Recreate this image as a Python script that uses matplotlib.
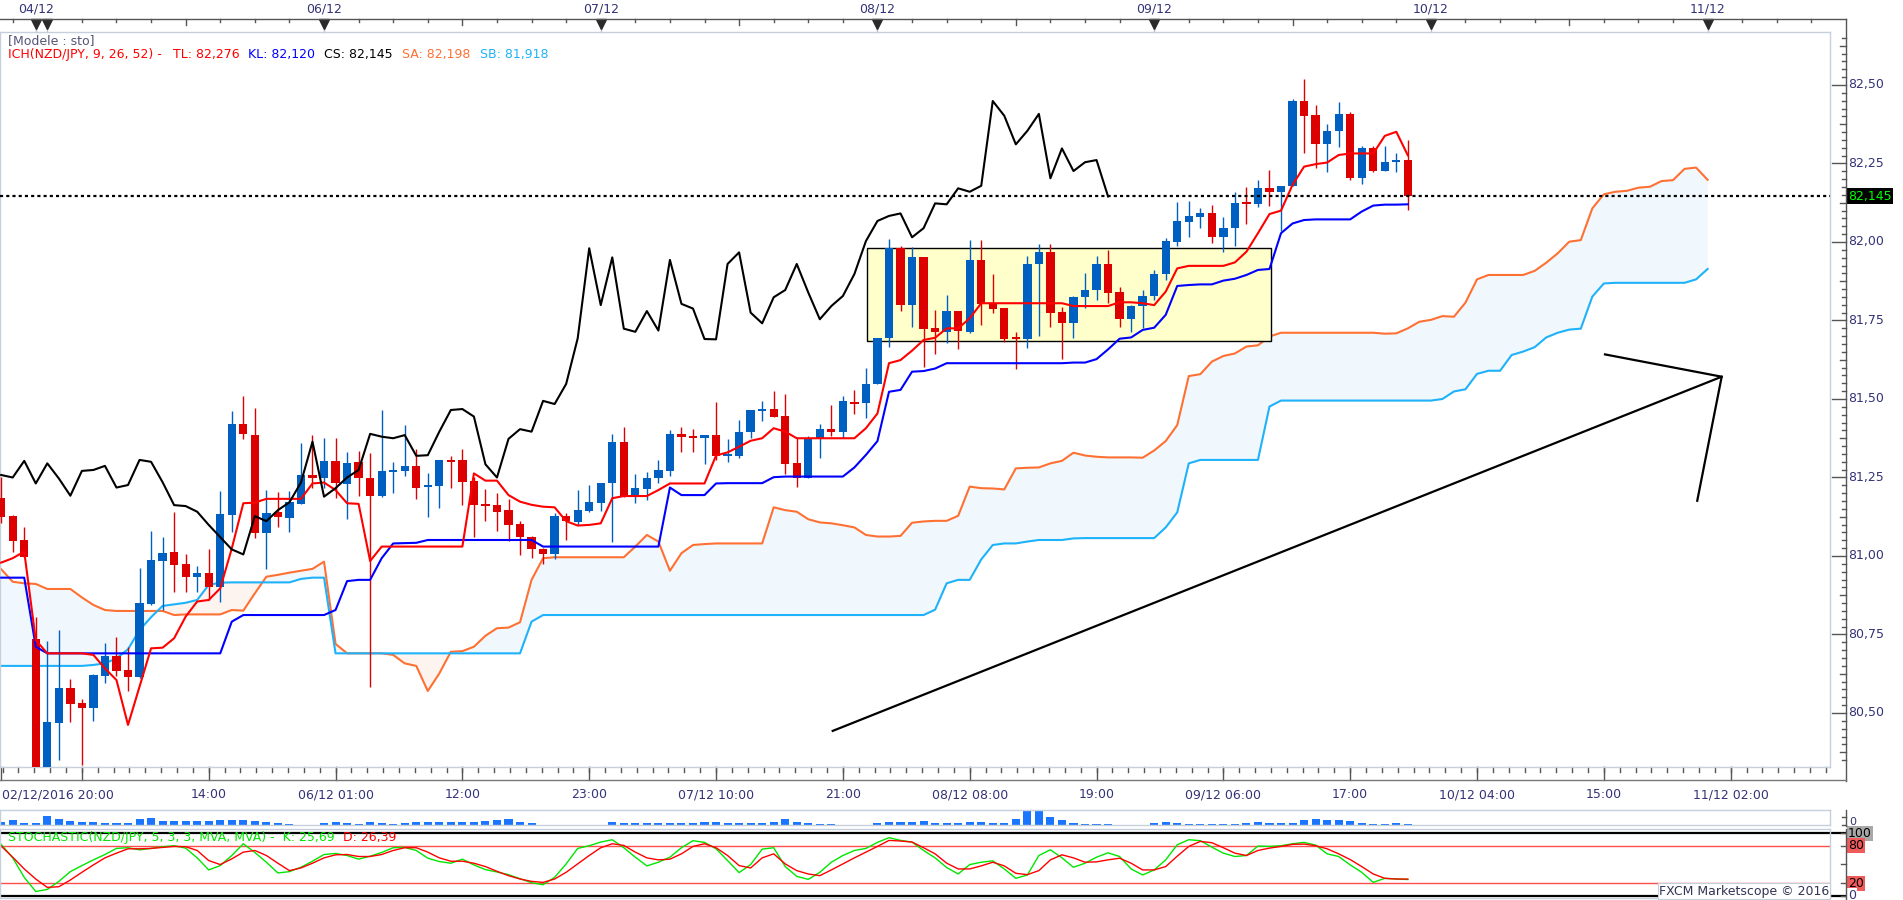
import numpy as np
import matplotlib
matplotlib.use("Agg")
import matplotlib.pyplot as plt
from matplotlib.lines import Line2D
from matplotlib.patches import Rectangle

# hourly NZD/JPY candles, first bar is index -4 (bar 0 = 05/12 00:00)
open_ = [81.185, 81.127, 81.051, 80.736, 80.300, 80.469, 80.581, 80.533, 80.517, 80.619,
         80.682, 80.637, 80.616, 80.847, 80.984, 81.013, 80.976, 80.932, 80.947, 80.900,
         81.132, 81.421, 81.386, 81.074, 81.139, 81.122, 81.167, 81.258, 81.250, 81.303,
         81.228, 81.298, 81.247, 81.192, 81.267, 81.272, 81.287, 81.221, 81.222, 81.306,
         81.306, 81.239, 81.166, 81.162, 81.146, 81.102, 81.060, 81.021, 81.005, 81.127,
         81.107, 81.144, 81.170, 81.234, 81.364, 81.192, 81.214, 81.250, 81.272, 81.389,
         81.382, 81.375, 81.385, 81.319, 81.319, 81.394, 81.463, 81.468, 81.446, 81.295,
         81.250, 81.373, 81.404, 81.396, 81.490, 81.486, 81.548, 81.695, 81.980, 81.799,
         81.951, 81.725, 81.714, 81.780, 81.714, 81.943, 81.807, 81.789, 81.695, 81.690,
         81.929, 81.967, 81.776, 81.741, 81.824, 81.847, 81.930, 81.840, 81.754, 81.796,
         81.828, 81.897, 82.001, 82.065, 82.081, 82.091, 82.015, 82.044, 82.123, 82.120,
         82.171, 82.160, 82.179, 82.449, 82.404, 82.311, 82.352, 82.408, 82.205, 82.298,
         82.226, 82.254, 82.261]
high = [81.253, 81.130, 81.093, 80.807, 80.729, 80.764, 80.608, 80.545, 80.625, 80.724,
        80.742, 80.711, 80.963, 81.081, 81.061, 81.139, 81.007, 80.968, 81.022, 81.207,
        81.462, 81.510, 81.470, 81.210, 81.205, 81.207, 81.359, 81.385, 81.377, 81.377,
        81.332, 81.334, 81.329, 81.465, 81.298, 81.417, 81.341, 81.265, 81.306, 81.319,
        81.341, 81.253, 81.213, 81.200, 81.180, 81.111, 81.065, 81.024, 81.136, 81.136,
        81.210, 81.226, 81.234, 81.389, 81.410, 81.261, 81.268, 81.306, 81.401, 81.412,
        81.404, 81.385, 81.490, 81.372, 81.433, 81.465, 81.494, 81.525, 81.516, 81.375,
        81.382, 81.420, 81.481, 81.510, 81.529, 81.598, 81.693, 82.009, 81.988, 81.985,
        81.951, 81.783, 81.831, 81.780, 82.006, 82.006, 81.898, 81.789, 81.712, 81.956,
        81.994, 81.994, 81.794, 81.828, 81.900, 81.955, 81.975, 81.858, 81.800, 81.847,
        81.911, 82.014, 82.128, 82.131, 82.107, 82.118, 82.081, 82.160, 82.176, 82.197,
        82.229, 82.179, 82.454, 82.519, 82.436, 82.376, 82.445, 82.415, 82.306, 82.306,
        82.306, 82.282, 82.325]
low = [81.104, 81.014, 80.998, 80.280, 80.280, 80.350, 80.470, 80.334, 80.475, 80.597,
       80.619, 80.571, 80.612, 80.845, 80.828, 80.886, 80.886, 80.885, 80.860, 80.854,
       81.077, 81.374, 81.058, 80.958, 81.093, 81.077, 81.165, 81.216, 81.218, 81.184,
       81.117, 81.192, 80.583, 81.189, 81.200, 81.255, 81.182, 81.125, 81.154, 81.218,
       81.162, 81.060, 81.111, 81.080, 81.048, 81.003, 80.995, 80.974, 80.990, 81.051,
       81.099, 81.140, 81.144, 81.046, 81.189, 81.168, 81.178, 81.231, 81.255, 81.332,
       81.332, 81.292, 81.306, 81.300, 81.311, 81.377, 81.430, 81.444, 81.260, 81.219,
       81.250, 81.311, 81.383, 81.375, 81.451, 81.439, 81.548, 81.665, 81.781, 81.728,
       81.603, 81.643, 81.677, 81.659, 81.709, 81.736, 81.775, 81.683, 81.596, 81.661,
       81.702, 81.730, 81.626, 81.693, 81.789, 81.815, 81.805, 81.730, 81.714, 81.727,
       81.815, 81.879, 81.987, 82.017, 82.046, 81.996, 81.967, 81.987, 82.056, 82.112,
       82.116, 82.036, 82.179, 82.284, 82.237, 82.222, 82.304, 82.197, 82.185, 82.222,
       82.226, 82.222, 82.102]
close = [81.124, 81.049, 80.998, 80.300, 80.472, 80.581, 80.528, 80.517, 80.622, 80.682,
         80.635, 80.616, 80.851, 80.987, 81.010, 80.971, 80.932, 80.947, 80.900, 81.134,
         81.421, 81.388, 81.074, 81.138, 81.125, 81.171, 81.258, 81.250, 81.303, 81.231,
         81.295, 81.247, 81.192, 81.271, 81.274, 81.287, 81.218, 81.226, 81.306, 81.300,
         81.235, 81.162, 81.159, 81.141, 81.099, 81.060, 81.021, 81.005, 81.127, 81.111,
         81.146, 81.171, 81.234, 81.364, 81.189, 81.216, 81.250, 81.274, 81.389, 81.380,
         81.375, 81.385, 81.319, 81.321, 81.396, 81.465, 81.468, 81.444, 81.292, 81.250,
         81.373, 81.404, 81.396, 81.494, 81.484, 81.548, 81.693, 81.980, 81.799, 81.951,
         81.724, 81.714, 81.780, 81.718, 81.943, 81.803, 81.788, 81.691, 81.690, 81.930,
         81.967, 81.775, 81.741, 81.824, 81.847, 81.930, 81.839, 81.754, 81.796, 81.828,
         81.898, 82.003, 82.067, 82.083, 82.091, 82.015, 82.044, 82.123, 82.120, 82.171,
         82.160, 82.179, 82.449, 82.402, 82.311, 82.354, 82.408, 82.203, 82.298, 82.226,
         82.254, 82.261, 82.145]

# ichimoku lines
tenkan = [80.979, 80.993, 81.014, 80.732, 80.690, 80.690, 80.690, 80.690, 80.685, 80.642,
          80.605, 80.462, 80.584, 80.706, 80.708, 80.738, 80.807, 80.855, 80.860, 80.897,
          81.024, 81.168, 81.170, 81.182, 81.182, 81.182, 81.182, 81.231, 81.234, 81.210,
          81.168, 81.166, 80.984, 81.030, 81.030, 81.030, 81.030, 81.030, 81.030, 81.030,
          81.030, 81.263, 81.240, 81.240, 81.194, 81.173, 81.163, 81.157, 81.155, 81.111,
          81.097, 81.099, 81.104, 81.184, 81.191, 81.191, 81.191, 81.210, 81.231, 81.231,
          81.231, 81.231, 81.320, 81.330, 81.348, 81.367, 81.375, 81.407, 81.396, 81.375,
          81.375, 81.375, 81.375, 81.375, 81.375, 81.407, 81.454, 81.614, 81.624, 81.654,
          81.688, 81.695, 81.725, 81.725, 81.757, 81.805, 81.805, 81.805, 81.805, 81.805,
          81.805, 81.805, 81.805, 81.796, 81.796, 81.796, 81.796, 81.808, 81.808, 81.805,
          81.799, 81.842, 81.916, 81.924, 81.924, 81.924, 81.924, 81.935, 81.969, 82.028,
          82.089, 82.100, 82.182, 82.240, 82.248, 82.253, 82.277, 82.282, 82.282, 82.282,
          82.338, 82.351, 82.276]
kijun = [80.931, 80.931, 80.931, 80.711, 80.690, 80.690, 80.690, 80.690, 80.690, 80.690,
         80.690, 80.690, 80.690, 80.690, 80.690, 80.690, 80.690, 80.690, 80.690, 80.690,
         80.791, 80.812, 80.812, 80.812, 80.812, 80.812, 80.812, 80.812, 80.812, 80.828,
         80.920, 80.924, 80.924, 80.993, 81.040, 81.041, 81.042, 81.051, 81.051, 81.051,
         81.051, 81.051, 81.051, 81.051, 81.051, 81.051, 81.051, 81.030, 81.030, 81.030,
         81.030, 81.030, 81.030, 81.030, 81.030, 81.030, 81.030, 81.030, 81.218, 81.194,
         81.194, 81.194, 81.231, 81.232, 81.232, 81.232, 81.232, 81.251, 81.253, 81.253,
         81.253, 81.253, 81.253, 81.253, 81.282, 81.322, 81.366, 81.523, 81.529, 81.587,
         81.589, 81.597, 81.614, 81.614, 81.614, 81.614, 81.614, 81.614, 81.614, 81.614,
         81.614, 81.614, 81.614, 81.616, 81.616, 81.627, 81.658, 81.692, 81.696, 81.720,
         81.727, 81.768, 81.860, 81.863, 81.865, 81.865, 81.877, 81.883, 81.895, 81.911,
         81.914, 82.028, 82.059, 82.070, 82.072, 82.072, 82.072, 82.072, 82.097, 82.116,
         82.119, 82.119, 82.120]
# the two cloud spans run 26 bars past the last candle
senkou_a = [80.958, 80.918, 80.913, 80.911, 80.895, 80.895, 80.895, 80.868, 80.844, 80.828,
            80.825, 80.825, 80.825, 80.825, 80.825, 80.812, 80.814, 80.814, 80.814, 80.814,
            80.828, 80.826, 80.881, 80.934, 80.940, 80.947, 80.953, 80.959, 80.982, 80.720,
            80.690, 80.690, 80.690, 80.690, 80.685, 80.658, 80.650, 80.570, 80.626, 80.695,
            80.697, 80.711, 80.746, 80.770, 80.772, 80.789, 80.924, 80.993, 80.996, 80.996,
            80.996, 80.996, 80.996, 80.996, 80.996, 81.030, 81.067, 81.046, 80.953, 81.009,
            81.035, 81.038, 81.040, 81.040, 81.040, 81.040, 81.040, 81.155, 81.146, 81.141,
            81.117, 81.107, 81.104, 81.098, 81.091, 81.067, 81.062, 81.062, 81.064, 81.106,
            81.110, 81.112, 81.112, 81.128, 81.221, 81.216, 81.215, 81.212, 81.279, 81.281,
            81.282, 81.295, 81.303, 81.329, 81.320, 81.316, 81.314, 81.314, 81.314, 81.313,
            81.336, 81.366, 81.417, 81.573, 81.579, 81.619, 81.637, 81.645, 81.667, 81.671,
            81.699, 81.711, 81.711, 81.711, 81.711, 81.711, 81.711, 81.711, 81.711, 81.711,
            81.708, 81.709, 81.725, 81.746, 81.752, 81.764, 81.762, 81.807, 81.881, 81.895,
            81.895, 81.895, 81.895, 81.908, 81.934, 81.964, 82.001, 82.006, 82.107, 82.152,
            82.160, 82.163, 82.173, 82.176, 82.194, 82.197, 82.233, 82.237, 82.198]
senkou_b = [80.650, 80.650, 80.650, 80.650, 80.650, 80.650, 80.650, 80.650, 80.653, 80.658,
            80.674, 80.703, 80.764, 80.805, 80.841, 80.846, 80.851, 80.860, 80.908, 80.915,
            80.916, 80.916, 80.916, 80.916, 80.916, 80.916, 80.927, 80.931, 80.931, 80.690,
            80.690, 80.690, 80.690, 80.690, 80.690, 80.690, 80.690, 80.690, 80.690, 80.690,
            80.690, 80.690, 80.690, 80.690, 80.690, 80.690, 80.791, 80.812, 80.812, 80.812,
            80.812, 80.812, 80.812, 80.812, 80.812, 80.812, 80.812, 80.812, 80.812, 80.812,
            80.812, 80.812, 80.812, 80.812, 80.812, 80.812, 80.812, 80.812, 80.812, 80.812,
            80.812, 80.812, 80.812, 80.812, 80.812, 80.812, 80.812, 80.812, 80.812, 80.812,
            80.812, 80.829, 80.913, 80.924, 80.924, 80.989, 81.035, 81.040, 81.040, 81.046,
            81.051, 81.051, 81.051, 81.056, 81.057, 81.057, 81.057, 81.057, 81.057, 81.057,
            81.057, 81.091, 81.139, 81.295, 81.306, 81.306, 81.306, 81.306, 81.306, 81.306,
            81.476, 81.495, 81.495, 81.495, 81.495, 81.495, 81.495, 81.495, 81.495, 81.495,
            81.495, 81.495, 81.495, 81.495, 81.495, 81.500, 81.524, 81.531, 81.580, 81.590,
            81.590, 81.640, 81.651, 81.665, 81.696, 81.711, 81.721, 81.724, 81.826, 81.868,
            81.870, 81.870, 81.870, 81.870, 81.870, 81.870, 81.870, 81.881, 81.914]

volume = [8, 13, 5, 6, 26, 16, 10, 9, 8, 5,
          4, 6, 16, 19, 11, 11, 11, 11, 11, 14,
          15, 13, 10, 7, 6, 3, 0, 0, 6, 7,
          5, 3, 7, 5, 3, 5, 7, 8, 7, 7,
          7, 9, 11, 13, 16, 9, 6, 0, 0, 0,
          0, 0, 0, 8, 4, 4, 4, 4, 4, 4,
          4, 8, 8, 6, 6, 5, 6, 8, 17, 9,
          6, 3, 3, 0, 0, 0, 4, 8, 7, 8,
          11, 6, 5, 6, 7, 7, 5, 5, 16, 40,
          40, 22, 13, 6, 3, 3, 3, 0, 0, 0,
          5, 8, 6, 3, 3, 3, 3, 3, 6, 8,
          6, 6, 6, 13, 16, 13, 13, 10, 6, 3,
          3, 5, 3]

stoch_k = [82.2, 60.5, 29.2, 6.5, 9.7, 22.7, 38.4, 48.1, 57.3, 65.9,
           75.7, 76.8, 73.5, 75.7, 78.4, 80.0, 76.2, 60.5, 41.1, 48.1,
           64.3, 83.2, 69.2, 53.5, 36.2, 38.4, 45.4, 55.1, 65.9, 67.6,
           64.3, 58.4, 63.2, 69.2, 76.8, 77.3, 72.4, 60.0, 54.6, 51.9,
           58.4, 49.2, 41.6, 37.8, 33.5, 27.0, 20.5, 17.3, 29.2, 50.8,
           75.7, 80.0, 85.9, 89.7, 76.8, 61.6, 47.6, 53.5, 61.6, 76.8,
           88.1, 85.4, 75.1, 56.2, 36.8, 49.7, 74.6, 76.8, 46.5, 30.8,
           25.9, 37.3, 53.5, 64.3, 72.4, 75.7, 85.4, 93.0, 88.6, 85.9,
           72.4, 60.5, 45.0, 34.6, 49.7, 53.5, 55.7, 42.7, 27.6, 33.0,
           64.3, 73.5, 60.5, 45.4, 51.9, 61.6, 68.6, 62.7, 42.7, 33.0,
           41.1, 57.3, 81.6, 89.7, 88.1, 77.8, 68.1, 62.7, 64.3, 79.5,
           78.9, 80.0, 83.2, 85.4, 81.1, 67.0, 62.7, 49.2, 37.3, 21.1,
           27.6, 26.5, 25.7]
stoch_d = [79.5, 61.6, 42.7, 26.5, 13.0, 14.1, 24.9, 37.3, 49.2, 60.5,
           68.1, 75.1, 75.1, 75.7, 77.3, 78.9, 78.4, 72.4, 56.2, 49.7,
           58.9, 69.7, 72.4, 64.3, 51.9, 40.0, 44.3, 51.9, 60.5, 65.4,
           65.9, 62.7, 62.7, 65.9, 72.4, 76.8, 76.8, 69.7, 60.5, 55.1,
           55.1, 51.9, 46.5, 38.9, 31.9, 26.5, 22.7, 21.1, 26.5, 37.3,
           50.8, 64.3, 76.8, 83.2, 80.5, 69.7, 60.5, 57.3, 58.4, 67.0,
           78.9, 83.2, 76.8, 64.3, 48.1, 44.3, 60.5, 67.0, 50.8, 40.0,
           34.6, 31.9, 41.1, 50.8, 60.5, 69.7, 78.9, 88.6, 87.6, 85.9,
           76.8, 67.0, 52.0, 42.7, 42.7, 47.6, 53.5, 47.6, 35.7, 33.5,
           40.0, 57.3, 65.4, 60.5, 53.5, 54.1, 57.3, 60.0, 51.9, 41.1,
           41.1, 46.5, 63.2, 78.9, 87.0, 84.9, 76.8, 68.1, 64.3, 72.4,
           76.2, 78.9, 82.2, 82.7, 80.0, 75.1, 67.0, 57.8, 46.5, 34.6,
           27.6, 26.5, 26.4]

# hand drawn objects (bar index, price)
box_bars = (71.12, 106.1)
box_prices = (81.685, 81.980)
trend_bars = [68.12, 145.22]
trend_prices = [80.443, 81.571]
arrow_bars = [135.1, 145.22, 143.1]
arrow_prices = [81.642, 81.571, 81.176]
last_price = 82.145

day_bars = [-1, 0, 24, 48, 72, 96, 120, 144]
day_labels = ["04/12", "", "06/12", "07/12", "08/12", "09/12", "10/12", "11/12"]
time_bars = [-4, 3, 14, 25, 36, 47, 58, 69, 80, 91, 102, 113, 124, 135, 146]
time_labels = ["02/12/2016 20:00", "", "14:00", "06/12 01:00", "12:00", "23:00",
               "07/12 10:00", "21:00", "08/12 08:00", "19:00", "09/12 06:00",
               "17:00", "10/12 04:00", "15:00", "11/12 02:00"]

open_ = np.array(open_); high = np.array(high); low = np.array(low); close = np.array(close)
bars = np.arange(-4, -4 + len(close))
cloud_bars = np.arange(-4, -4 + len(senkou_a))
sa = np.array(senkou_a); sb = np.array(senkou_b)

BLUE = "#0060c2"
RED = "#dd0000"
AXC = "#333377"
W, H = 1903, 900
X0, DX = 47.3, 11.53          # pixel of bar 0 and pixels per bar
PLOT_R, AXIS_X = 1830, 1846
TOP, BOT = 32.3, 766.7
XLIM = ((0 - X0) / DX, (PLOT_R - X0) / DX)

plt.rcParams['font.family'] = ['DejaVu Sans']
fig = plt.figure(figsize=(W / 100, H / 100), dpi=100)


def box(x0, y0, x1, y1):
    return [x0 / W, 1 - y1 / H, (x1 - x0) / W, (y1 - y0) / H]


def fig_line(xs, ys, **kw):
    fig.add_artist(Line2D([x / W for x in xs], [1 - y / H for y in ys], **kw))


def frame(a):
    a.set_xlim(*XLIM)
    a.set_xticks([])
    a.set_yticks([])
    for s in a.spines.values():
        s.set_color("#c5d0dc")
        s.set_linewidth(1)


# ---------------- main price panel ----------------
ax = fig.add_axes(box(0, TOP, PLOT_R, BOT))
frame(ax)
ax.set_ylim(82 - (BOT - 242) / 314, 82 + (242 - TOP) / 314)

up = sa >= sb
ax.fill_between(cloud_bars, sa, sb, where=up, interpolate=True, color="#f1f8fd", lw=0, zorder=1)
ax.fill_between(cloud_bars, sa, sb, where=~up, interpolate=True, color="#fdf3ef", lw=0, zorder=1)
ax.plot(cloud_bars, sa, color="#ff7033", lw=1.5, zorder=2)
ax.plot(cloud_bars, sb, color="#1eb2fa", lw=1.5, zorder=2)

ax.add_patch(Rectangle((box_bars[0], box_prices[0]), box_bars[1] - box_bars[0],
                       box_prices[1] - box_prices[0], facecolor="#ffffcc",
                       edgecolor="black", lw=1, zorder=3))

cols = np.where(close >= open_, BLUE, RED)
ax.vlines(bars, low, high, colors=cols, lw=1.0, zorder=4)
body = np.maximum(np.abs(close - open_), 0.006)
ax.bar(bars, body, bottom=np.minimum(open_, close), width=0.72, color=cols, lw=0, zorder=5)

ax.plot(bars, kijun, color="#0000ff", lw=1.5, zorder=6)
ax.plot(bars, tenkan, color="#ff0000", lw=1.5, zorder=6)
ax.plot(bars[26:] - 26, close[26:], color="black", lw=1.5, zorder=6)   # chikou span
ax.axhline(last_price, color="black", lw=1.6, ls=(0, (1.4, 1.4)), zorder=7)

ax.plot(trend_bars, trend_prices, color="black", lw=1.6, zorder=7)
ax.plot(arrow_bars, arrow_prices, color="black", lw=1.6, zorder=7)

# legend text
fy = lambda py: (BOT - py) / (BOT - TOP)
ax.text(8 / PLOT_R, fy(40.7), "[Modele : sto]", color="#55557a", fontsize=9,
        va="center", transform=ax.transAxes)
parts = [("ICH(NZD/JPY, 9, 26, 52) -", "#ff0000", 8), ("TL: 82,276", "#ff0000", 173),
         ("KL: 82,120", "#0000ff", 248), ("CS: 82,145", "black", 324),
         ("SA: 82,198", "#ff7033", 402), ("SB: 81,918", "#1eb2fa", 480)]
for txt, c, px in parts:
    ax.text(px / PLOT_R, fy(54.3), txt, color=c, fontsize=9, va="center", transform=ax.transAxes)

# price scale on the right
yt = ax.get_yaxis_transform()
lo, hi = ax.get_ylim()
for p in np.arange(80.325, 82.675, 0.025):
    if p < lo or p > hi:
        continue
    q = p * 4
    if abs(q - round(q)) < 1e-6:
        ln = 14
        ax.text((AXIS_X + 2) / PLOT_R, p, f"{p:.2f}".replace(".", ","), color=AXC,
                fontsize=9, va="center", ha="left", transform=yt, clip_on=False)
    elif abs(p * 8 - round(p * 8)) < 1e-6:
        ln = 6
    else:
        ln = 4
    ax.plot([(AXIS_X - ln) / PLOT_R, AXIS_X / PLOT_R], [p, p], color="#555555", lw=1,
            transform=yt, clip_on=False)
ax.text((AXIS_X + 2) / PLOT_R, last_price, f"{last_price:.3f}".replace(".", ","),
        color="#00ff00", fontsize=9, va="center", ha="left", transform=yt, clip_on=False,
        bbox=dict(boxstyle="square,pad=0.12", fc="black", ec="none"))

# top date scale
xt = ax.get_xaxis_transform()
fig_line([0, AXIS_X], [19.3, 19.3], color="#555555", lw=1)
fig_line([AXIS_X, AXIS_X], [19.3, 781], color="#555555", lw=1)
for b in range(-3, 155, 3):
    if b in day_bars:
        continue
    y1 = 25.5 if (b - 12) % 24 == 0 else 22.5
    ax.plot([b, b], [fy(19.3), fy(y1)], color="#555555", lw=1, transform=xt, clip_on=False)
for b, lab in zip(day_bars, day_labels):
    ax.plot([b, b], [fy(27), fy(TOP)], color="#b8c2cf", lw=1, transform=xt, clip_on=False)
    if lab:
        ax.text(b, fy(9.3), lab, color=AXC, fontsize=9, ha="center", va="center",
                transform=xt, clip_on=False)
ax.plot(day_bars, [fy(23.6)] * len(day_bars), ls="none", marker="v", ms=6.5,
        color="#2a2a2a", transform=xt, clip_on=False)

# bottom time scale: long ticks every 11 bars, 8 steps between them
fig_line([0, AXIS_X], [780, 780], color="#777777", lw=1)
minor = np.arange(time_bars[1] - 5 * 11 / 8, XLIM[1], 11 / 8)
for b in minor:
    if b < XLIM[0] + 0.2:
        continue
    ax.plot([b, b], [fy(767), fy(771.5)], color="#555555", lw=1, transform=xt, clip_on=False)
for b in time_bars:
    x = max(b, XLIM[0] + 0.12)
    ax.plot([x, x], [fy(767), fy(780)], color="#555555", lw=1, transform=xt, clip_on=False)
for i, (b, lab) in enumerate(zip(time_bars, time_labels)):
    if not lab:
        continue
    if i == 0:
        ax.text(0.001, fy(795), lab, color=AXC, fontsize=9, ha="left", va="center",
                transform=ax.transAxes, clip_on=False)
    else:
        ax.text(b, fy(795), lab, color=AXC, fontsize=9, ha="center", va="center",
                transform=xt, clip_on=False)

# ---------------- volume ----------------
axv = fig.add_axes(box(0, 809.5, PLOT_R, 824.5))
frame(axv)
axv.set_ylim(0, 45)
axv.bar(bars, volume, width=0.7, color="#1a75ff", lw=0)
fig_line([AXIS_X, AXIS_X], [809.5, 826], color="#555555", lw=1)
fig_line([AXIS_X - 4, AXIS_X], [817, 817], color="#555555", lw=1)
fig_line([AXIS_X - 4, AXIS_X], [825, 825], color="#555555", lw=1)
fig.text((AXIS_X + 3) / W, 1 - 822 / H, "0", color=AXC, fontsize=8, va="center")

# ---------------- stochastic ----------------
axs = fig.add_axes(box(0, 829, PLOT_R, 898))
frame(axs)
axs.set_ylim(-(898 - 895.5) / 0.622, 100 + (833.3 - 829) / 0.622)
for lvl in (80, 20):
    axs.axhline(lvl, color="#ff4d4d", lw=1)
for lvl in (100, 0):
    axs.axhline(lvl, xmax=AXIS_X / PLOT_R, color="black", lw=1.6, clip_on=False)
axs.plot(bars, stoch_k, color="#00e600", lw=1)
axs.plot(bars, stoch_d, color="#ff0000", lw=1)
fig_line([AXIS_X, AXIS_X], [829, 900], color="#555555", lw=1)
st = axs.get_yaxis_transform()
for lvl in (100, 80, 50, 20, 0):
    axs.plot([(AXIS_X - 5) / PLOT_R, AXIS_X / PLOT_R], [lvl, lvl], color="#555555", lw=1,
             transform=st, clip_on=False)
for lvl, bg in ((100, "#a8a8a8"), (80, "#f05a5a"), (20, "#f05a5a"), (0, "white")):
    axs.text((AXIS_X + 2) / PLOT_R, lvl, str(lvl), color="black" if lvl != 0 else AXC,
             fontsize=9, va="center", ha="left", transform=st, clip_on=False,
             bbox=dict(boxstyle="square,pad=0.08", fc=bg, ec="none"))
sy = lambda py: (898 - py) / (898 - 829)
axs.text(8.5 / PLOT_R, sy(838), "STOCHASTIC(NZD/JPY, 5, 3, 3, MVA, MVA) -  K: 25,69",
         color="#00e600", fontsize=9, va="center", transform=axs.transAxes)
axs.text(343 / PLOT_R, sy(838), "D: 26,39", color="#ff0000", fontsize=9, va="center",
         transform=axs.transAxes)
axs.text(0.9995, sy(891), "FXCM Marketscope \u00a9 2016", color="#333355", fontsize=9,
         ha="right", va="center", transform=axs.transAxes,
         bbox=dict(boxstyle="square,pad=0.1", fc="white", ec="#c5d0dc", lw=0.8))

fig.savefig("out.png", dpi=100)
